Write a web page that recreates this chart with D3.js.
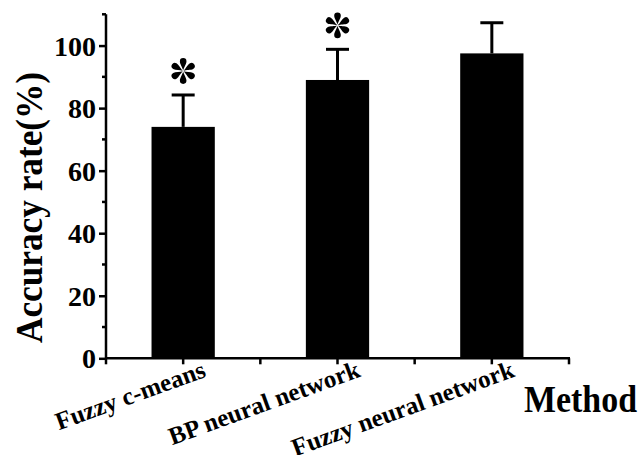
<!DOCTYPE html>
<html>
<head>
<meta charset="utf-8">
<script src="https://cdn.jsdelivr.net/npm/d3@7"></script>
<style>
body { margin: 0; background: #fff; }
</style>
</head>
<body>
<svg width="643" height="455" font-family="'Liberation Serif', 'Times New Roman', serif" font-weight="bold"></svg>
<script>
// ---------------- data ----------------
var methods = ["Fuzzy c-means", "BP neural network", "Fuzzy neural network"];
var accuracy = [74, 89, 97.5];
var sdev = [10.2, 9.8, 9.8];
var significant = [true, true, false];
var yMajor = [0, 20, 40, 60, 80, 100];
var yMinor = [10, 30, 50, 70, 90, 110];

function draw() {
var svg = d3.select("svg");
var left = 106, right = 569, plotTop = 14.3, bottom = 358.3;
var serif = "'Liberation Serif', 'Times New Roman', serif";

// scales
var xs = d3.scaleBand().domain(methods).range([left, right]).paddingInner(0.59).paddingOuter(0.295);
var ys = d3.scaleLinear().domain([0, 110]).range([bottom, plotTop]);
var mid = function(m) { return xs(m) + xs.bandwidth() / 2; };

var rows = methods.map(function(m, i) { return {name: m, v: accuracy[i], sd: sdev[i], star: significant[i]}; });

// ---------------- bars ----------------
svg.selectAll("rect.bar").data(rows).enter().append("rect")
    .attr("class", "bar")
    .attr("x", d => xs(d.name))
    .attr("y", d => ys(d.v))
    .attr("width", xs.bandwidth())
    .attr("height", d => ys(0) - ys(d.v))
    .attr("fill", "#000");

// error bars (upper only)
var eb = svg.selectAll("g.err").data(rows).enter().append("g").attr("class", "err");
eb.append("line")
    .attr("x1", d => mid(d.name)).attr("x2", d => mid(d.name))
    .attr("y1", d => ys(d.v)).attr("y2", d => ys(d.v + d.sd))
    .attr("stroke", "#000").attr("stroke-width", 3);
eb.append("line")
    .attr("x1", d => mid(d.name) - 11.5).attr("x2", d => mid(d.name) + 11.5)
    .attr("y1", d => ys(d.v + d.sd)).attr("y2", d => ys(d.v + d.sd))
    .attr("stroke", "#000").attr("stroke-width", 3);

// significance asterisks (six teardrop spokes)
var spoke = "M0,-0.5 C-0.4,-3 -3.3,-7 -3.3,-9.6 A3.3,3.3 0 1,1 3.3,-9.6 C3.3,-7 0.4,-3 0,-0.5Z";
var stars = svg.selectAll("g.star").data(rows.filter(d => d.star)).enter().append("g")
    .attr("class", "star")
    .attr("transform", d => "translate(" + mid(d.name) + "," + (ys(d.v + d.sd) - 24) + ")");
[0, 60, 120, 180, 240, 300].forEach(function(a) {
    stars.append("path").attr("d", spoke).attr("transform", "rotate(" + a + ")").attr("fill", "#000");
});

// ---------------- axes ----------------
var yAxis = svg.append("g")
    .attr("transform", "translate(" + left + ",0)")
    .call(d3.axisLeft(ys).tickValues(yMajor).tickSize(7).tickPadding(3).tickFormat(d3.format("d")))
    .attr("font-family", serif).attr("font-size", 28).attr("font-weight", "bold");
yAxis.select(".domain").attr("d", "M0," + ys(110) + "V" + ys(0)).attr("stroke-width", 2.5);
yAxis.selectAll(".tick line").attr("stroke-width", 2.5);
yAxis.selectAll(".tick text").attr("dy", "0.34em").attr("fill", "#000");

svg.append("g").selectAll("line").data(yMinor).enter().append("line")
    .attr("x1", left - 4).attr("x2", left)
    .attr("y1", d => ys(d)).attr("y2", d => ys(d))
    .attr("stroke", "#000").attr("stroke-width", 2.5);

// x axis
var xAxis = svg.append("g").attr("transform", "translate(0," + bottom + ")");
xAxis.append("line").attr("x1", left - 1).attr("x2", right + 1).attr("y1", 0).attr("y2", 0)
    .attr("stroke", "#000").attr("stroke-width", 2.5);
var xTicks = [left].concat(methods.map(mid))
    .concat(methods.map(m => mid(m) + xs.step() / 2));
xAxis.selectAll("line.tk").data(xTicks).enter().append("line")
    .attr("class", "tk")
    .attr("x1", d => d).attr("x2", d => d).attr("y1", 0).attr("y2", 6)
    .attr("stroke", "#000").attr("stroke-width", 2.5);

xAxis.selectAll("text.lab").data(methods).enter().append("text")
    .attr("class", "lab")
    .attr("text-anchor", "end")
    .attr("font-family", serif).attr("font-weight", "bold")
    .attr("font-size", 25)
    .attr("transform", d => "translate(" + (mid(d) + 24) + ",18) rotate(-20)")
    .text(d => d);

// axis titles
svg.append("text")
    .attr("transform", "translate(42,207.5) rotate(-90)")
    .attr("text-anchor", "middle")
    .attr("font-family", serif).attr("font-weight", "bold")
    .attr("font-size", 38)
    .attr("textLength", 271).attr("lengthAdjust", "spacingAndGlyphs")
    .text("Accuracy rate(%)");

svg.append("text")
    .attr("x", 524).attr("y", 412)
    .attr("font-family", serif).attr("font-weight", "bold")
    .attr("font-size", 37)
    .attr("textLength", 113).attr("lengthAdjust", "spacingAndGlyphs")
    .text("Method");
}
draw();
</script>
</body>
</html>
